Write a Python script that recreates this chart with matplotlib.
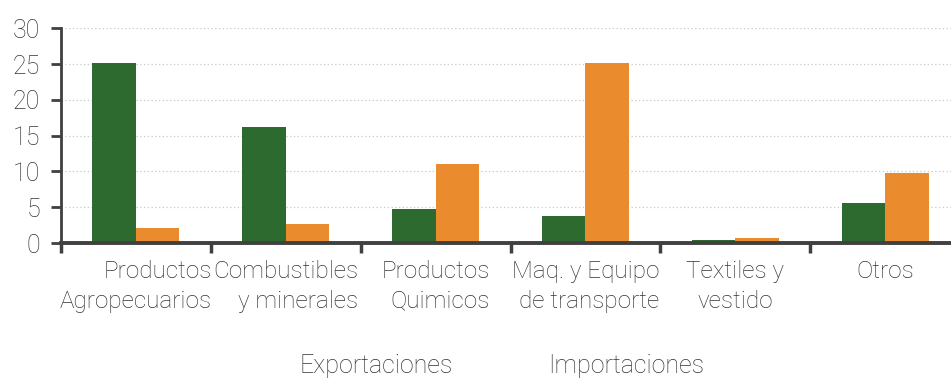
import numpy as np
import matplotlib.pyplot as plt

plt.rcParams['font.family'] = ['Roboto', 'Liberation Sans', 'DejaVu Sans']

# Valores por rubro (%)
categorias = ['Productos\nAgropecuarios', 'Combustibles\ny minerales', 'Productos\nQuimicos',
              'Maq. y Equipo\nde transporte', 'Textiles y\nvestido', 'Otros']
series = ['Exportaciones', 'Importaciones']
exportaciones = [25.2, 16.2, 4.7, 3.8, 0.4, 5.65]
importaciones = [2.1, 2.7, 11.0, 25.2, 0.7, 9.85]

verde = '#2d6a2f'
naranja = '#ea8b2d'
eje = '#404040'
texto = '#333333'

fig = plt.figure(figsize=(9.51, 3.78), dpi=100)
ax = fig.add_axes([0.0641, 0.357, 0.9455, 0.568])

x = np.arange(len(categorias)) + 0.5
w = 0.29
ax.bar(x - w / 2, exportaciones, width=w, color=verde, zorder=3)
ax.bar(x + w / 2, importaciones, width=w, color=naranja, zorder=3)

ax.set_xlim(0, len(categorias))
ax.set_ylim(0, 30)
ax.set_yticks(range(0, 31, 5))
ax.yaxis.grid(True, color='#c8c8c8', linestyle=(0, (1, 2)), linewidth=0.9, zorder=0)

for s in ['top', 'right']:
    ax.spines[s].set_visible(False)
ax.spines['left'].set_color(eje)
ax.spines['left'].set_linewidth(2)
ax.spines['bottom'].set_color(eje)
ax.spines['bottom'].set_linewidth(2.8)
ax.spines['bottom'].set_zorder(4)

# marcas en los límites de cada grupo, etiquetas centradas en cada grupo
ax.set_xticks(np.arange(len(categorias) + 1))
ax.set_xticklabels([])
ax.set_xticks(x, minor=True)
ax.set_xticklabels(categorias, minor=True)
ax.tick_params(axis='x', which='major', direction='out', length=7, width=2.5, color=eje)
ax.tick_params(axis='x', which='minor', length=0, pad=12, labelsize=17.5, labelcolor=texto)
ax.tick_params(axis='y', direction='out', length=7, width=2, color=eje,
               labelsize=18, labelcolor=texto, pad=8)

for i, lbl in enumerate(ax.get_xticklabels(minor=True)):
    lbl.set_fontweight('light')
    lbl.set_linespacing(1.38)
    lbl.set_multialignment('right' if i < 4 else 'center')
for lbl in ax.get_yticklabels():
    lbl.set_fontweight('light')

# leyenda sin muestras de color
for nombre, px in zip(series, [376, 626]):
    fig.text(px / 951, 1 - 366 / 378, nombre, ha='center', va='center',
             fontsize=18, color=texto, fontweight='light')

fig.savefig('out.png', dpi=100, facecolor='white')
